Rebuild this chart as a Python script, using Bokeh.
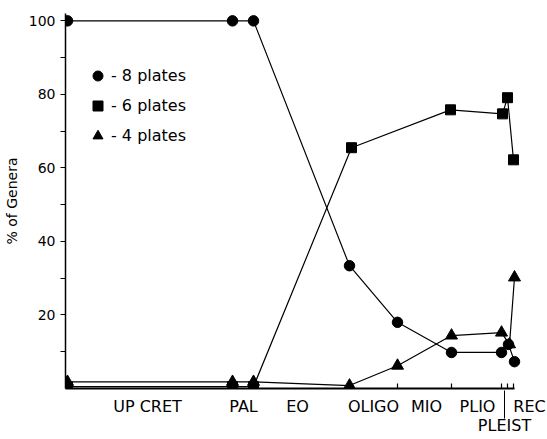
from bokeh.plotting import figure
from bokeh.models import FixedTicker, Legend, LegendItem, Range1d, LinearAxis
from bokeh.embed import file_html
from bokeh.resources import INLINE

# ---- data (x = position along the time axis, arbitrary linear units) ----
x_eight = [2, 167, 188, 284, 332, 386, 436, 443, 449]
y_eight = [100, 100, 100, 33.4, 18.0, 9.8, 9.8, 12.0, 7.3]

x_six = [2, 167, 188, 286, 385, 437, 442, 448]
y_six = [0.5, 0.5, 0.5, 65.5, 75.8, 74.7, 79.1, 62.2]

x_four = [2, 167, 188, 284, 332, 386, 436, 444, 449]
y_four = [1.8, 1.8, 1.8, 0.8, 6.2, 14.4, 15.2, 12.0, 30.2]

series_labels = ["- 8 plates", "- 6 plates", "- 4 plates"]

epoch_names = ["UP CRET", "PAL", "EO", "OLIGO", "MIO", "PLIO", "REC"]
epoch_x = [82, 178, 232, 308, 361, 412, 464]
pleist_name = "PLEIST"
pleist_x = 439
boundary_ticks = [332, 386, 436, 442, 448]
axis_end = 449

y_major = [20, 40, 60, 80, 100]
y_minor = [10, 30, 50, 70, 90]

FONT = "DejaVu Sans"

p = figure(frame_width=475, frame_height=375,
           min_border_left=57, min_border_right=6, min_border_top=13, min_border_bottom=40,
           x_range=Range1d(0, 475), y_range=Range1d(0, 102),
           output_backend="svg", toolbar_location=None)
p.outline_line_color = None
p.grid.visible = False
p.background_fill_color = "white"
p.border_fill_color = "white"

# y axis
ya = p.yaxis[0]
ya.ticker = FixedTicker(ticks=y_major, minor_ticks=y_minor)
ya.major_tick_in = 0
ya.major_tick_out = 5
ya.minor_tick_in = 0
ya.minor_tick_out = 5
ya.axis_line_width = 1.5
ya.major_tick_line_width = 1.2
ya.minor_tick_line_width = 1.2
ya.major_label_text_font = FONT
ya.major_label_text_font_size = "14px"
ya.major_label_text_color = "black"
ya.major_label_standoff = 5
ya.axis_label = "% of Genera"
ya.axis_label_text_font = FONT
ya.axis_label_text_font_size = "14px"
ya.axis_label_text_font_style = "normal"
ya.axis_label_text_color = "black"
ya.axis_label_standoff = 6

# x axis line with the epoch-boundary ticks
xa = p.xaxis[0]
xa.bounds = (0, axis_end)
xa.ticker = FixedTicker(ticks=boundary_ticks, minor_ticks=[])
xa.major_tick_in = 5
xa.major_tick_out = 0
xa.axis_line_width = 2
xa.major_tick_line_width = 1.2
xa.major_label_overrides = {t: "" for t in boundary_ticks}
xa.major_label_text_font_size = "0px"
xa.major_label_standoff = 0

# epoch names
xb = LinearAxis(ticker=FixedTicker(ticks=epoch_x, minor_ticks=[]),
                major_label_overrides=dict(zip(epoch_x, epoch_names)),
                axis_line_color=None, major_tick_line_color=None,
                major_tick_in=0, major_tick_out=0, minor_tick_in=0, minor_tick_out=0,
                major_label_standoff=8, major_label_text_font=FONT,
                major_label_text_font_size="16px", major_label_text_color="black")
p.add_layout(xb, "below")

# PLEIST on a second row, with its pointer line
xc = LinearAxis(ticker=FixedTicker(ticks=[pleist_x], minor_ticks=[]),
                major_label_overrides={pleist_x: pleist_name},
                axis_line_color=None, major_tick_line_color="black", major_tick_line_width=1,
                major_tick_in=28, major_tick_out=0, minor_tick_in=0, minor_tick_out=0,
                major_label_standoff=-3, major_label_text_font=FONT,
                major_label_text_font_size="16px", major_label_text_color="black")
p.add_layout(xc, "below")

LW = 1.2
p.line(x_eight, y_eight, line_color="black", line_width=LW)
p.line(x_six, y_six, line_color="black", line_width=LW)
p.line(x_four, y_four, line_color="black", line_width=LW)

r8 = p.scatter(x_eight, y_eight, marker="circle", size=10.5, color="black")
r6 = p.scatter(x_six, y_six, marker="square", size=10, color="black")
r4 = p.scatter(x_four, y_four, marker="triangle", size=12, color="black")

legend = Legend(items=[LegendItem(label=series_labels[0], renderers=[r8]),
                       LegendItem(label=series_labels[1], renderers=[r6]),
                       LegendItem(label=series_labels[2], renderers=[r4])],
                location=(20, 240), orientation="vertical",
                glyph_width=25, glyph_height=25, label_height=25, label_width=10,
                spacing=5, padding=0, margin=0, label_standoff=1,
                border_line_color=None, background_fill_alpha=0,
                label_text_font=FONT, label_text_font_size="16px",
                label_text_color="black")
p.add_layout(legend, "center")

open("out.html", "w").write(file_html(p, INLINE))
